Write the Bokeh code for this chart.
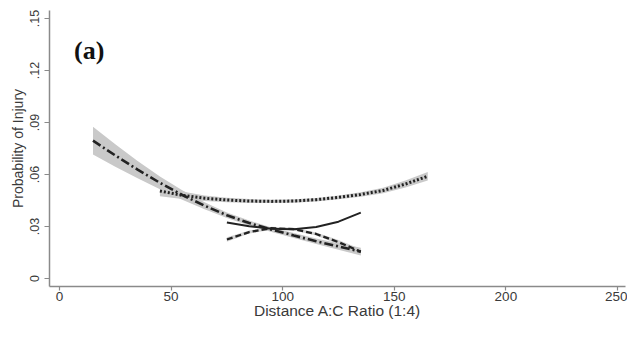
from bokeh.plotting import figure
from bokeh.models import Range1d, FixedTicker, Label
from bokeh.embed import file_html
from bokeh.resources import INLINE

# ---- data ----
x_ticks = [0, 50, 100, 150, 200, 250]
y_ticks = [0, 0.03, 0.06, 0.09, 0.12, 0.15]
y_tick_labels = ["0", ".03", ".06", ".09", ".12", ".15"]

# series A: dash-dot line with wide CI band
xa = [15, 25, 35, 45, 55, 65, 75, 85, 95, 105, 115, 125, 135]
ya = [0.0795, 0.0710, 0.0628, 0.0552, 0.0482, 0.0420, 0.0365, 0.0320, 0.0282, 0.0248, 0.0215, 0.0185, 0.0155]
ya_hi = [0.0875, 0.0775, 0.0678, 0.0589, 0.0509, 0.0440, 0.0381, 0.0334, 0.0295, 0.0262, 0.0231, 0.0204, 0.0177]
ya_lo = [0.0715, 0.0645, 0.0578, 0.0515, 0.0455, 0.0400, 0.0349, 0.0306, 0.0269, 0.0234, 0.0199, 0.0166, 0.0133]

# series B: dotted line with CI band
xb = [45, 55, 65, 75, 85, 95, 105, 115, 125, 135, 145, 155, 165]
yb = [0.0505, 0.0480, 0.0463, 0.0453, 0.0447, 0.0445, 0.0447, 0.0455, 0.0468, 0.0485, 0.0508, 0.0545, 0.0590]
yb_hi = [0.0535, 0.0502, 0.0479, 0.0466, 0.0458, 0.0455, 0.0457, 0.0465, 0.0479, 0.0498, 0.0524, 0.0565, 0.0615]
yb_lo = [0.0475, 0.0458, 0.0447, 0.0440, 0.0436, 0.0435, 0.0437, 0.0445, 0.0457, 0.0472, 0.0492, 0.0525, 0.0565]

# series C: solid line; series D: dashed line with thin band
xc = [75, 85, 95, 105, 115, 125, 135]
yc = [0.0323, 0.0302, 0.0287, 0.0284, 0.0297, 0.0328, 0.0380]
yd = [0.0225, 0.0268, 0.0290, 0.0285, 0.0257, 0.0210, 0.0155]
yd_hi = [0.0238, 0.0277, 0.0298, 0.0293, 0.0266, 0.0222, 0.0170]
yd_lo = [0.0212, 0.0259, 0.0282, 0.0277, 0.0248, 0.0198, 0.0140]

panel_tag = "(a)"
x_title = "Distance A:C Ratio (1:4)"
y_title = "Probability of Injury"

FONT = "Liberation Sans"
LINE = "#222222"
BAND = "#c9c9c9"
AXIS = "#8a8a8a"

p = figure(width=627, height=321,
           x_range=Range1d(-4.48, 253.6), y_range=Range1d(-0.0046, 0.1546),
           output_backend="svg", toolbar_location=None,
           min_border_left=49, min_border_right=2, min_border_top=10, min_border_bottom=35)
p.outline_line_color = None
p.xgrid.visible = False
p.ygrid.visible = False
p.background_fill_color = "white"
p.border_fill_color = "white"

# bands
p.varea(x=xa, y1=ya_lo, y2=ya_hi, fill_color=BAND, fill_alpha=1.0)
p.varea(x=xb, y1=yb_lo, y2=yb_hi, fill_color=BAND, fill_alpha=1.0)
p.varea(x=xc, y1=yd_lo, y2=yd_hi, fill_color=BAND, fill_alpha=0.8)

# lines
p.line(xb, yb, line_color=LINE, line_width=3, line_dash="2 2")
p.line(xa, ya, line_color=LINE, line_width=2.6, line_dash="9 3 2 3")
p.line(xc, yc, line_color=LINE, line_width=2)
p.line(xc, yd, line_color=LINE, line_width=2.3, line_dash="6 3")

# axes
xa_ = p.xaxis[0]
ya_ = p.yaxis[0]
xa_.ticker = FixedTicker(ticks=x_ticks)
ya_.ticker = FixedTicker(ticks=y_ticks)
ya_.major_label_overrides = {t: l for t, l in zip(y_ticks, y_tick_labels)}
ya_.major_label_orientation = "vertical"
for ax in (xa_, ya_):
    ax.axis_line_color = AXIS
    ax.axis_line_width = 1.5
    ax.major_tick_line_color = AXIS
    ax.major_tick_line_width = 1.2
    ax.major_tick_in = 0
    ax.minor_tick_line_color = None
    ax.major_label_text_font = FONT
    ax.major_label_text_color = "#3a3a3a"
    ax.axis_label_text_font = FONT
    ax.axis_label_text_font_style = "normal"
    ax.axis_label_text_color = "#3a3a3a"
xa_.major_tick_out = 4
ya_.major_tick_out = 5
xa_.major_label_text_font_size = "13.5px"
xa_.major_label_standoff = 1
xa_.axis_label = x_title
xa_.axis_label_text_font_size = "15.5px"
xa_.axis_label_standoff = -2
ya_.major_label_text_font_size = "12.5px"
ya_.major_label_standoff = 5
ya_.axis_label = y_title
ya_.axis_label_text_font_size = "14px"
ya_.axis_label_standoff = 2

p.add_layout(Label(x=6.5, y=0.1315, text=panel_tag, text_align="left",
                   text_baseline="alphabetic", text_font="Liberation Serif",
                   text_font_style="bold", text_font_size="26px", text_color="#111111"))

open("out.html", "w").write(file_html(p, INLINE))
